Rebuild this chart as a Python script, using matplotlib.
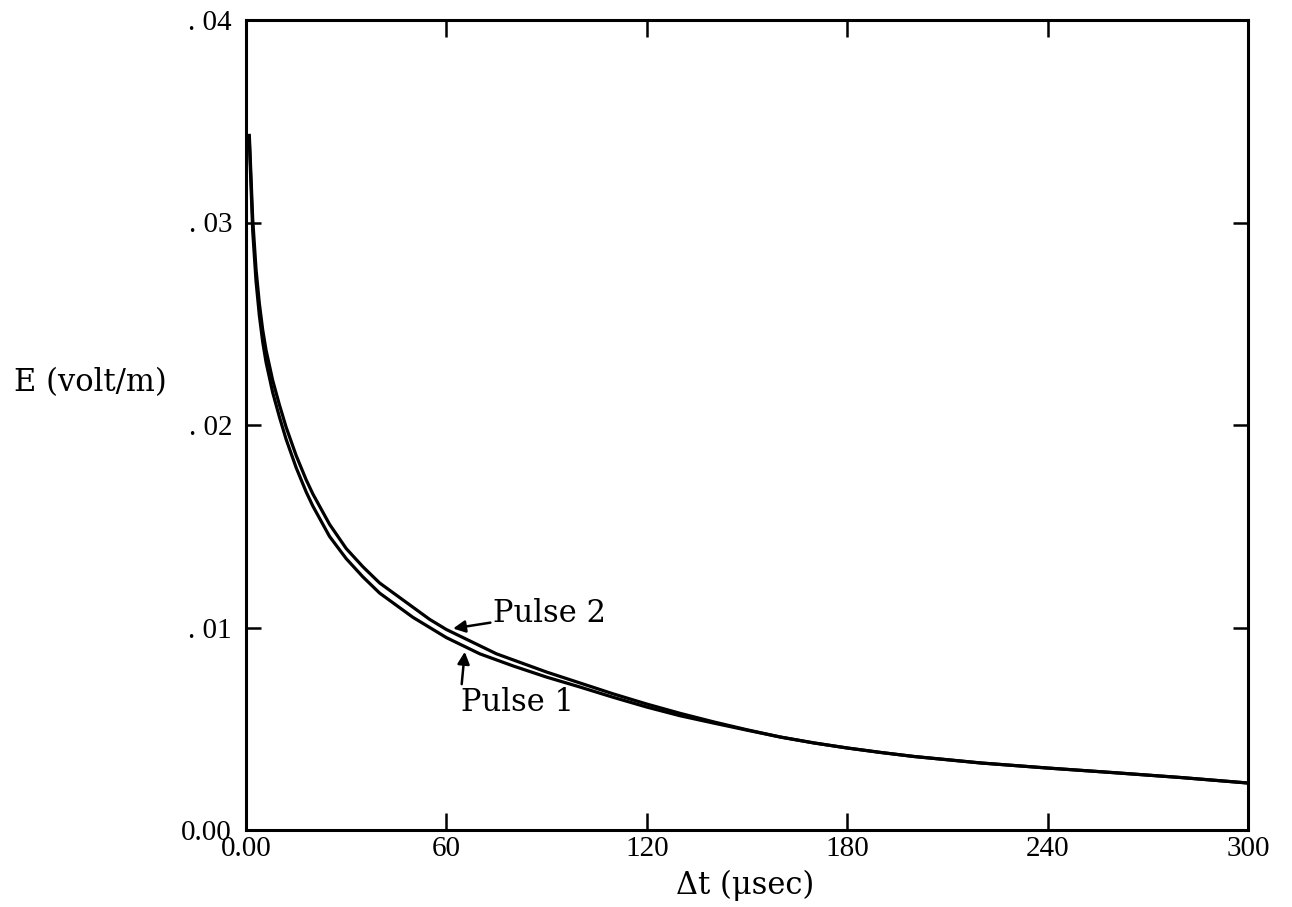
import matplotlib
matplotlib.use("Agg")
import matplotlib.pyplot as plt

# ---- data ----
t = [1, 2, 3, 4, 5, 6, 8, 10, 12, 15, 18, 20, 25, 30, 35, 40, 45, 50, 55, 60,
     65, 70, 75, 80, 90, 100, 110, 120, 130, 140, 150, 160, 170, 180, 190, 200,
     220, 240, 260, 280, 300]
pulse2 = [0.0343, 0.0302, 0.0277, 0.0260, 0.0247, 0.0237, 0.0222, 0.0210,
          0.0199, 0.0185, 0.0173, 0.0166, 0.0151, 0.0139, 0.0130, 0.0122,
          0.0116, 0.0110, 0.0104, 0.0099, 0.0095, 0.0091, 0.0087, 0.0084,
          0.0078, 0.00726, 0.00672, 0.00622, 0.00576, 0.00534, 0.00495,
          0.00459, 0.00430, 0.00405, 0.00383, 0.00363, 0.00331, 0.00306,
          0.00283, 0.00259, 0.00232]
pulse1 = [0.0340, 0.0296, 0.0271, 0.0254, 0.0241, 0.0231, 0.0216, 0.0204,
          0.0193, 0.0179, 0.0167, 0.0160, 0.0145, 0.0134, 0.0125, 0.0117,
          0.0111, 0.0105, 0.0100, 0.0095, 0.0091, 0.0087, 0.0084, 0.0081,
          0.00755, 0.00706, 0.00655, 0.00607, 0.00564, 0.00528, 0.00493,
          0.00459, 0.00430, 0.00405, 0.00383, 0.00363, 0.00331, 0.00306,
          0.00283, 0.00259, 0.00232]
xticks = [0, 60, 120, 180, 240, 300]
xticklabels = ["0.00", "60", "120", "180", "240", "300"]
yticks = [0.0, 0.01, 0.02, 0.03, 0.04]
yticklabels = ["0.00", ". 01", ". 02", ". 03", ". 04"]

plt.rcParams['font.family'] = ['Liberation Serif', 'DejaVu Serif']
fig = plt.figure(figsize=(12.92, 9.07), dpi=100)
ax = fig.add_axes([246/1292, 1-830/907, (1248-246)/1292, (830-20)/907])

ax.plot(t, pulse1, color='black', lw=2.3)
ax.plot(t, pulse2, color='black', lw=2.3)

ax.set_xlim(0, 300)
ax.set_ylim(0, 0.04)
ax.set_xticks(xticks)
ax.set_xticklabels(xticklabels, fontsize=21)
ax.set_yticks(yticks)
ax.set_yticklabels(yticklabels, fontsize=21)
ax.tick_params(axis='x', direction='in', top=True, length=12, width=1.8, pad=4)
ax.tick_params(axis='y', direction='in', right=True, length=11, width=1.8, pad=10)
for s in ax.spines.values():
    s.set_linewidth(2.2)

lab = dict(fontsize=22, family=['DejaVu Serif'])
fig.text(14/1292, 1-383/907, "E (volt/m)", ha='left', va='center', **lab)
fig.text(745/1292, 1-885/907, "Δt (μsec)", ha='center', va='center', **lab)

ax.annotate("Pulse 2", xy=(62, 0.00995), xytext=(74, 0.0107),
            va='center', ha='left',
            arrowprops=dict(arrowstyle='-|>', color='black', lw=1.8,
                            mutation_scale=18, shrinkA=0, shrinkB=0),
            **lab)
ax.annotate("Pulse 1", xy=(65.5, 0.0088), xytext=(64.5, 0.0063),
            va='center', ha='left',
            arrowprops=dict(arrowstyle='-|>', color='black', lw=1.8,
                            mutation_scale=18, shrinkA=0, shrinkB=0,
                            relpos=(0, 1)),
            **lab)

fig.savefig("out.png", dpi=100)
